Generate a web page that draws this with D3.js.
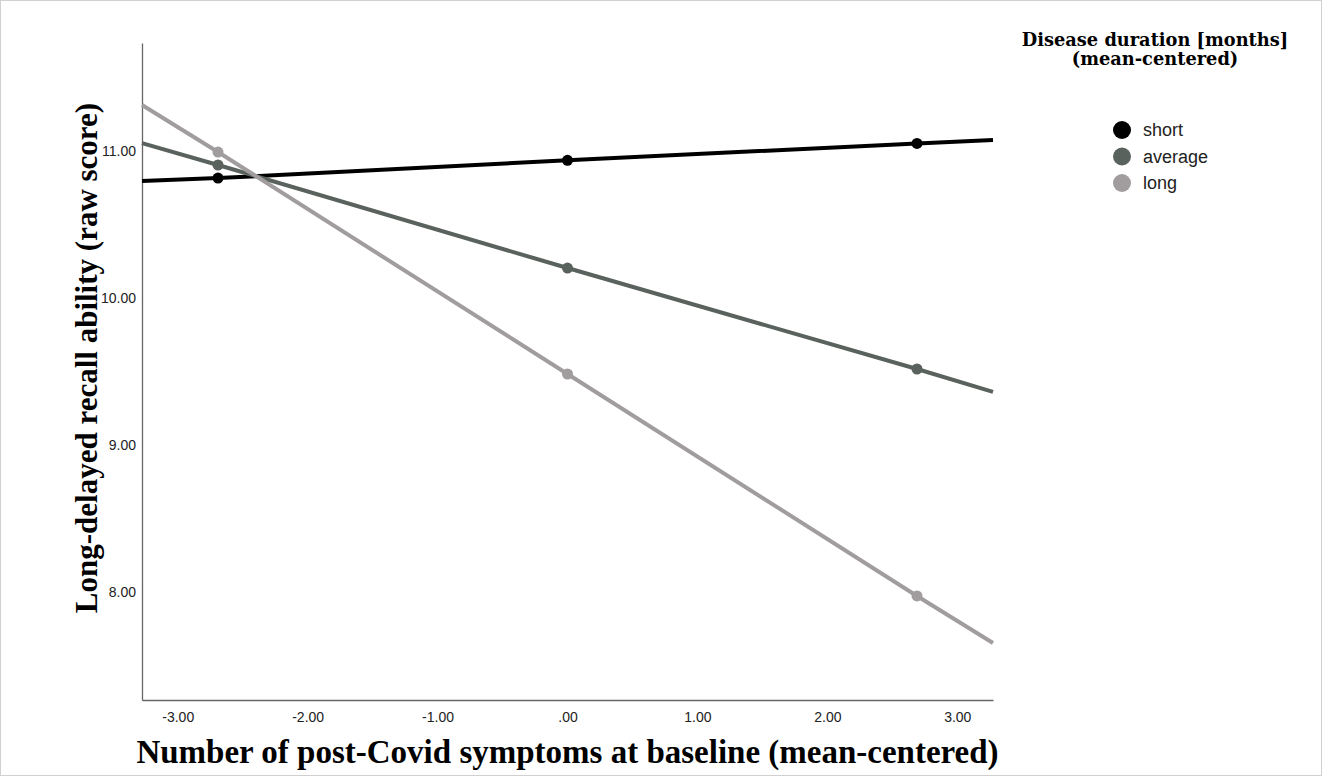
<!DOCTYPE html>
<html>
<head>
<meta charset="utf-8">
<script src="https://cdn.jsdelivr.net/npm/d3@7"></script>
<style>
  body { margin: 0; background: #fff; }
</style>
</head>
<body>
<div id="chart"></div>
<script>
// values
var groups = ["short", "average", "long"];
var groupColors = ["#000000", "#59625c", "#a19d9e"];
var pointX = [-2.69, 0, 2.69];
var shortY = [10.816, 10.937, 11.052];
var averageY = [10.905, 10.204, 9.517];
var longY = [10.993, 9.483, 7.973];
// fit lines run across the whole plot, value at left and right edge
var lineLeftY = [10.796, 11.054, 11.313];
var lineRightY = [11.075, 9.361, 7.653];
var xTicks = [-3, -2, -1, 0, 1, 2, 3];
var yTicks = [8, 9, 10, 11];
var xDomain = [-3.275, 3.275];
var yDomain = [7.265, 11.735];

function fmt(v) {
  var s = v.toFixed(2);
  if (Math.abs(v) < 1) s = s.replace("0.", ".");
  return s;
}

function renderInteractionPlot(containerSelector) {
  var W = 1322, H = 776;
  var margin = { top: 43, right: 329, bottom: 76, left: 142 };
  var width = W - margin.left - margin.right;
  var height = H - margin.top - margin.bottom;

  var root = d3
    .select(containerSelector)
    .append("svg")
    .attr("width", W)
    .attr("height", H);

  root
    .append("rect")
    .attr("x", 0.5)
    .attr("y", 0.5)
    .attr("width", W - 1)
    .attr("height", H - 1)
    .attr("fill", "#fff")
    .attr("stroke", "#d0d0d0");

  var svg = root
    .append("g")
    .attr("transform", "translate(" + margin.left + "," + margin.top + ")");

  var x = d3.scaleLinear().domain(xDomain).range([0, width]);
  var y = d3.scaleLinear().domain(yDomain).range([height, 0]);

  var xAxis = svg
    .append("g")
    .attr("transform", "translate(0," + height + ")")
    .call(d3.axisBottom(x).tickValues(xTicks).tickFormat(fmt).tickSize(0).tickPadding(12));
  var yAxis = svg
    .append("g")
    .call(d3.axisLeft(y).tickValues(yTicks).tickFormat(fmt).tickSize(0).tickPadding(6));

  [xAxis, yAxis].forEach(function (ax) {
    ax.select(".domain").attr("stroke", "#666").attr("stroke-width", 1.3);
    ax.selectAll("text")
      .attr("fill", "#222")
      .style("font-family", "'Liberation Sans', Arial, sans-serif")
      .style("font-size", "14px");
  });

  var series = [shortY, averageY, longY];
  var line = d3
    .line()
    .x(function (d) { return x(d[0]); })
    .y(function (d) { return y(d[1]); });

  series.forEach(function (vals, i) {
    var pts = [[xDomain[0], lineLeftY[i]]];
    vals.forEach(function (v, j) { pts.push([pointX[j], v]); });
    pts.push([xDomain[1], lineRightY[i]]);

    svg
      .append("path")
      .datum(pts)
      .attr("fill", "none")
      .attr("stroke", groupColors[i])
      .attr("stroke-width", 4)
      .attr("d", line);

    svg
      .selectAll(".pt" + i)
      .data(vals)
      .enter()
      .append("circle")
      .attr("cx", function (d, j) { return x(pointX[j]); })
      .attr("cy", function (d) { return y(d); })
      .attr("r", 5.5)
      .attr("fill", groupColors[i]);
  });

  // axis titles
  svg
    .append("text")
    .attr("x", width / 2)
    .attr("y", height + 63)
    .attr("text-anchor", "middle")
    .style("font-family", "'Liberation Serif', 'Times New Roman', serif")
    .style("font-weight", "bold")
    .style("font-size", "33px")
    .text("Number of post-Covid symptoms at baseline (mean-centered)");

  svg
    .append("text")
    .attr("transform", "rotate(-90)")
    .attr("x", -(358 - margin.top))
    .attr("y", 97 - margin.left)
    .attr("text-anchor", "middle")
    .style("font-family", "'Liberation Serif', 'Times New Roman', serif")
    .style("font-weight", "bold")
    .style("font-size", "31px")
    .text("Long-delayed recall ability (raw score)");

  // legend
  var legend = root.append("g");
  legend
    .append("text")
    .attr("x", 1155)
    .attr("text-anchor", "middle")
    .style("font-family", "'DejaVu Serif', serif")
    .style("font-weight", "bold")
    .style("font-size", "17.8px")
    .selectAll("tspan")
    .data(["Disease duration [months]", "(mean-centered)"])
    .enter()
    .append("tspan")
    .attr("x", 1155)
    .attr("y", function (d, i) { return 46 + i * 19; })
    .text(function (d) { return d; });

  var items = legend
    .selectAll(".item")
    .data(groups)
    .enter()
    .append("g")
    .attr("transform", function (d, i) { return "translate(1122," + (130 + i * 26.5) + ")"; });

  items
    .append("circle")
    .attr("r", 9)
    .attr("fill", function (d, i) { return groupColors[i]; });

  items
    .append("text")
    .attr("x", 21)
    .attr("dy", "0.35em")
    .attr("fill", "#222")
    .style("font-family", "'Liberation Sans', Arial, sans-serif")
    .style("font-size", "18px")
    .text(function (d) { return d; });
}

renderInteractionPlot("#chart");
</script>
</body>
</html>
